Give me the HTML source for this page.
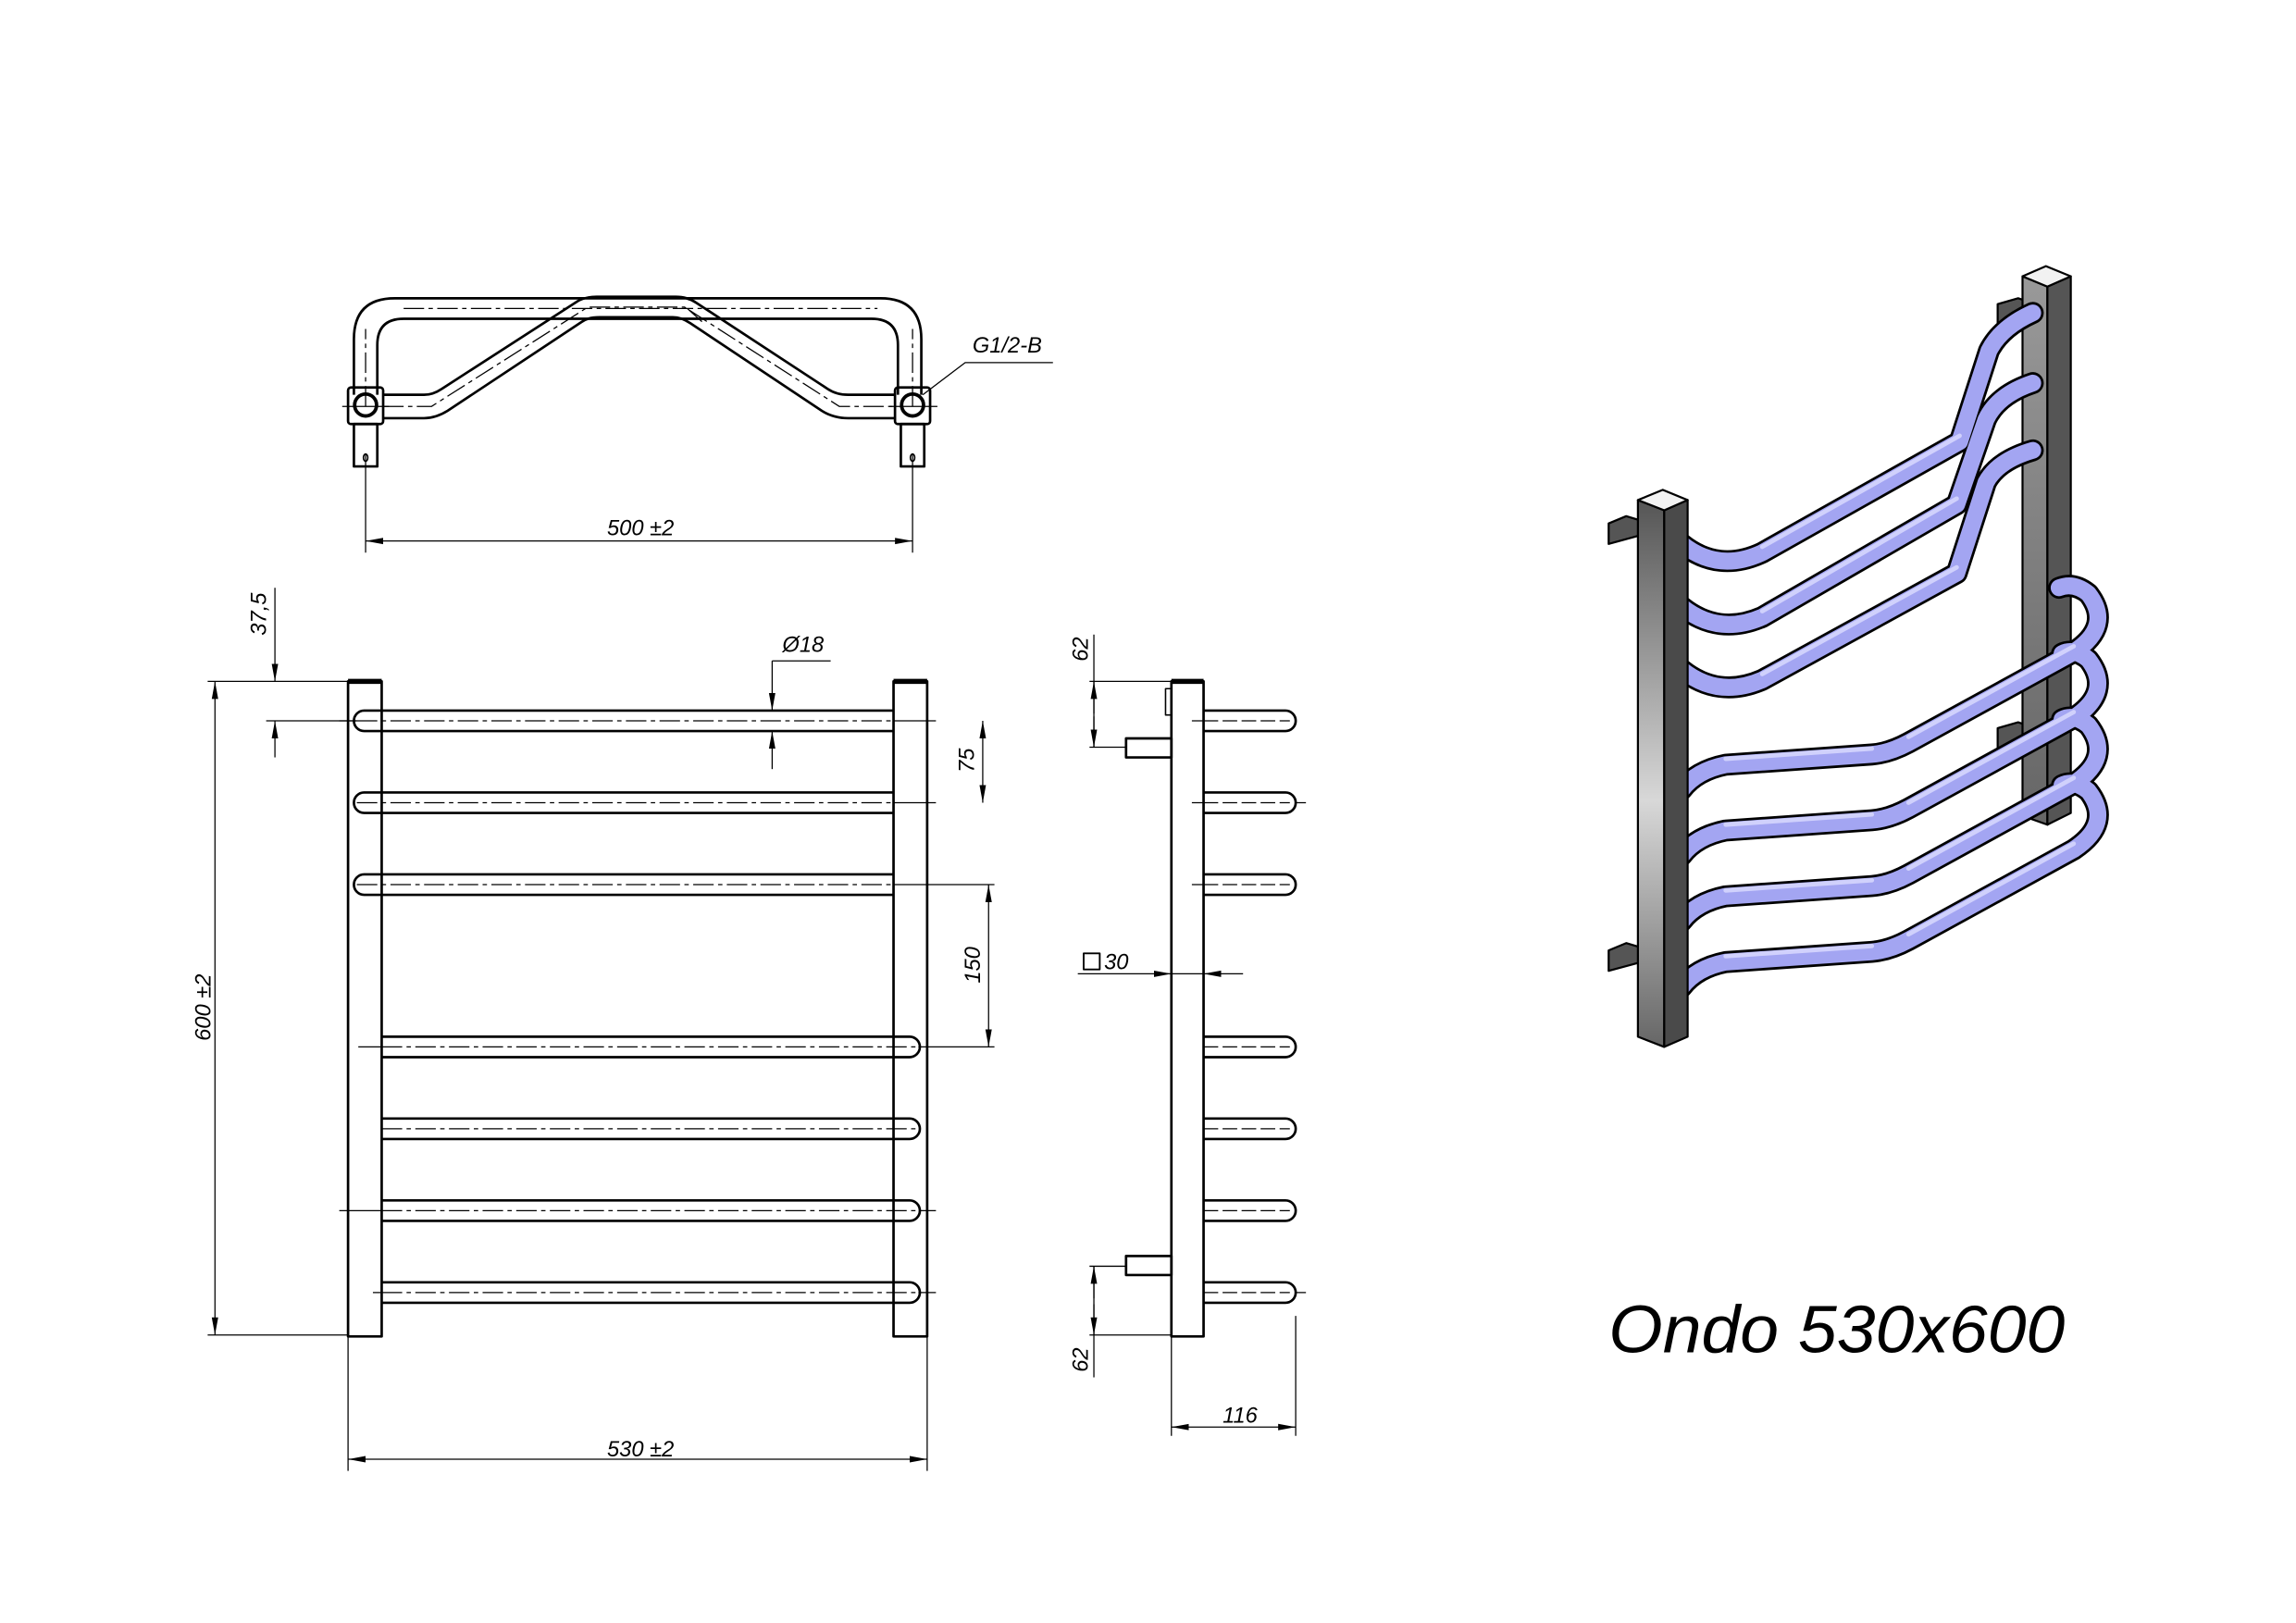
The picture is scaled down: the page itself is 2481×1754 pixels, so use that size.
<!DOCTYPE html>
<html><head><meta charset="utf-8"><style>
html,body{margin:0;padding:0;background:#fff;}
svg{display:block}
text{font-family:"Liberation Sans",sans-serif;font-style:italic;fill:#000}
</style></head><body>
<svg width="2481" height="1754" viewBox="0 0 1570 1110" preserveAspectRatio="none" xmlns="http://www.w3.org/2000/svg">
<defs>
<marker id="a" viewBox="0 0 12 6" refX="12" refY="3" markerWidth="12" markerHeight="6" markerUnits="userSpaceOnUse" orient="auto-start-reverse"><path d="M0,0.8 L12,3 L0,5.2 Z" fill="#000"/></marker>
<linearGradient id="pg" x1="0" x2="0" y1="0" y2="1"><stop offset="0" stop-color="#555"/><stop offset="0.55" stop-color="#d8d8d8"/><stop offset="1" stop-color="#666"/></linearGradient>
<linearGradient id="pg2" x1="0" x2="0" y1="0" y2="1"><stop offset="0" stop-color="#999"/><stop offset="1" stop-color="#666"/></linearGradient>
</defs>
<g fill="none" stroke="#000" stroke-width="1.7" stroke-linejoin="round">
<path d="M242,270 V232 Q242,204 270,204 H602 Q630,204 630,232 V270"/>
<path d="M258,270 V236 Q258,218 276,218 H596 Q614,218 614,236 V270"/>
<path d="M262,270 H290 Q296,270 302,266 L395,206 Q400,203 408,203 H462 Q470,203 476,207 L566,266 Q572,270 580,270 H612"/>
<path d="M262,286 H290 Q298,286 306,281 L398,220 Q402,217 410,217 H460 Q466,217 472,221 L562,281 Q570,286 580,286 H612"/>
<g stroke-width="0.8" stroke-dasharray="14,3,3,3"><path d="M250,278 V225 M624,278 V225 M276,211 H600 M262,278 H295 L402,210 H468 L574,278 H612 M470,211 L480,220"/></g>
<rect x="238" y="265" width="24" height="25" rx="2"/><rect x="612" y="265" width="24" height="25" rx="2"/>
<circle cx="250" cy="277" r="7.5" stroke-width="2.4"/><circle cx="624" cy="277" r="7.5" stroke-width="2.4"/>
<rect x="242" y="290" width="16" height="29"/><rect x="616" y="290" width="16" height="29"/>
<ellipse cx="250" cy="313" rx="1.5" ry="2.5" stroke-width="1"/><ellipse cx="624" cy="313" rx="1.5" ry="2.5" stroke-width="1"/>
<g stroke-width="0.8"><path d="M234,278 H266 M608,278 H641 M250,310 V378 M624,310 V378"/>
<path d="M250,370 H624" marker-start="url(#a)" marker-end="url(#a)"/>
<path d="M631,270 L660,248 H720"/></g>
<rect x="238" y="466" width="23" height="448"/><rect x="611" y="466" width="23" height="448"/>
<path d="M238,466 H261 M611,466 H634" stroke-width="3.5"/>
<g id="bt"><path d="M611,486 H249 A7,7 0 0 0 249,500 H611"/></g>
<use href="#bt" y="56"/><use href="#bt" y="112"/>
<g id="bb"><path d="M261,709 H622 A7,7 0 0 1 622,723 H261"/></g>
<use href="#bb" y="56"/><use href="#bb" y="112"/><use href="#bb" y="168"/>
<g stroke-width="0.8"><g stroke-dasharray="14,3,3,3"><path d="M244,493 H611 M244,549 H611 M244,605 H611 M261,716 H628 M261,772 H628 M261,828 H628 M261,884 H628"/></g>
<path d="M232,493 H244 M611,493 H640 M611,549 H640 M611,605 H680 M245,716 H261 M628,716 H680 M629,828 H640 M255,884 H261 M628,884 H640 M232,828 H261"/>
<path d="M142,466 H238 M142,913 H238 M182,466 H238 M182,493 H244 M238,914 V1006 M634,914 V1006"/>
<path d="M147,466 V913" marker-start="url(#a)" marker-end="url(#a)"/>
<path d="M188,402 V466" marker-end="url(#a)"/><path d="M188,518 V493" marker-end="url(#a)"/>
<path d="M672,493 V549" marker-start="url(#a)" marker-end="url(#a)"/>
<path d="M676,605 V716" marker-start="url(#a)" marker-end="url(#a)"/>
<path d="M528,452 V486" marker-end="url(#a)"/><path d="M528,526 V500" marker-end="url(#a)"/><path d="M528,452 H568"/>
<path d="M238,998 H634" marker-start="url(#a)" marker-end="url(#a)"/></g>
<rect x="801" y="466" width="22" height="448"/>
<path d="M801,466 H823" stroke-width="3.5"/>
<rect x="797" y="471" width="4" height="18" stroke-width="1"/>
<rect x="770" y="505" width="31" height="13"/><rect x="770" y="859" width="31" height="13"/>
<g id="st"><path d="M823,486 H879 A7,7 0 0 1 879,500 H823"/></g>
<use href="#st" y="56"/><use href="#st" y="112"/><use href="#st" y="223"/><use href="#st" y="279"/><use href="#st" y="335"/><use href="#st" y="391"/>
<g stroke-width="0.8"><g stroke-dasharray="10,3"><path d="M823,493 H882 M823,549 H882 M823,605 H882 M823,716 H882 M823,772 H882 M823,828 H882 M823,884 H882"/></g>
<path d="M815,493 H823 M815,549 H823 M815,605 H823 M886,549 H893 M886,884 H893"/>
<path d="M745,466 H801 M745,511 H770 M745,866 H770 M745,913 H801 M801,914 V982 M886,900 V982"/>
<path d="M748,434 V511" /><path d="M748,466 V488" marker-start="url(#a)"/><path d="M748,511 V490" marker-start="url(#a)"/>
<path d="M748,866 V942"/><path d="M748,866 V888" marker-start="url(#a)"/><path d="M748,913 V892" marker-start="url(#a)"/>
<path d="M801,976 H886" marker-start="url(#a)" marker-end="url(#a)"/>
<path d="M737,666 H801" marker-end="url(#a)"/><path d="M850,666 H823" marker-end="url(#a)"/><path d="M801,666 H823"/>
<rect x="741" y="652" width="11" height="11" stroke-width="1.2"/></g>
</g>
<g font-size="15">
<text x="438" y="366" text-anchor="middle">500 ±2</text>
<text x="665" y="241">G1/2-B</text>
<text x="438" y="996" text-anchor="middle">530 ±2</text>
<text x="535" y="446">Ø18</text>
<text x="836" y="973">116</text>
<text x="755" y="663">30</text>
<text transform="translate(144,689) rotate(-90)" text-anchor="middle">600 ±2</text>
<text transform="translate(182,420) rotate(-90)" text-anchor="middle">37,5</text>
<text transform="translate(666,520) rotate(-90)" text-anchor="middle">75</text>
<text transform="translate(670,660) rotate(-90)" text-anchor="middle">150</text>
<text transform="translate(744,444) rotate(-90)" text-anchor="middle">62</text>
<text transform="translate(744,930) rotate(-90)" text-anchor="middle">62</text>
</g>
<text x="1100" y="925" font-size="46" textLength="312" lengthAdjust="spacingAndGlyphs">Ondo 530x600</text>
<g stroke="#000" stroke-width="1.4" stroke-linejoin="round">
<polygon points="1366,208 1380,204 1392,208 1392,216 1366,222" fill="#555"/>
<polygon points="1366,498 1380,494 1392,498 1392,506 1366,512" fill="#555"/>
<polygon points="1383,189 1400,196 1400,564 1383,558" fill="url(#pg2)"/>
<polygon points="1400,196 1416,189 1416,556 1400,564" fill="#555"/>
<polygon points="1383,189 1399,182 1416,189 1400,196" fill="#f2f2f2"/>
</g>
<g fill="none" stroke-linecap="round" stroke-linejoin="round">
<g stroke="#000" stroke-width="15">
<path d="M1150,372 Q1175,392 1205,378 L1340,302 L1360,240 Q1368,224 1390,214"/>
<path d="M1150,415 Q1175,435 1205,422 L1338,345 L1358,287 Q1366,270 1390,262"/>
<path d="M1150,458 Q1175,478 1205,465 L1338,392 L1358,330 Q1366,315 1390,308"/>
<path d="M1150,540 Q1160,527 1180,523 L1280,516 Q1292,515 1305,508 L1418,446 Q1445,428 1428,406 Q1418,398 1408,402"/>
<path d="M1150,585 Q1160,572 1180,568 L1280,561 Q1292,560 1305,553 L1418,491 Q1445,473 1428,451 Q1418,443 1410,447"/>
<path d="M1150,630 Q1160,617 1180,613 L1280,606 Q1292,605 1305,598 L1418,536 Q1445,518 1428,496 Q1418,488 1410,492"/>
<path d="M1150,675 Q1160,662 1180,658 L1280,651 Q1292,650 1305,643 L1418,581 Q1445,563 1428,541 Q1418,533 1410,537"/>
</g>
<g stroke="#a3a5f2" stroke-width="11.5">
<path d="M1150,372 Q1175,392 1205,378 L1340,302 L1360,240 Q1368,224 1390,214"/>
<path d="M1150,415 Q1175,435 1205,422 L1338,345 L1358,287 Q1366,270 1390,262"/>
<path d="M1150,458 Q1175,478 1205,465 L1338,392 L1358,330 Q1366,315 1390,308"/>
<path d="M1150,540 Q1160,527 1180,523 L1280,516 Q1292,515 1305,508 L1418,446 Q1445,428 1428,406 Q1418,398 1408,402"/>
<path d="M1150,585 Q1160,572 1180,568 L1280,561 Q1292,560 1305,553 L1418,491 Q1445,473 1428,451 Q1418,443 1410,447"/>
<path d="M1150,630 Q1160,617 1180,613 L1280,606 Q1292,605 1305,598 L1418,536 Q1445,518 1428,496 Q1418,488 1410,492"/>
<path d="M1150,675 Q1160,662 1180,658 L1280,651 Q1292,650 1305,643 L1418,581 Q1445,563 1428,541 Q1418,533 1410,537"/>
</g>
<g stroke="#dcdcff" stroke-width="3" opacity="0.8">
<path d="M1205,374 L1340,298"/><path d="M1205,418 L1338,341"/><path d="M1205,461 L1338,388"/>
<path d="M1180,519 L1280,512 M1305,504 L1418,442"/><path d="M1180,564 L1280,557 M1305,549 L1418,487"/>
<path d="M1180,609 L1280,602 M1305,594 L1418,532"/><path d="M1180,654 L1280,647 M1305,639 L1418,577"/>
</g>
</g>
<g stroke="#000" stroke-width="1.4" stroke-linejoin="round">
<polygon points="1100,358 1112,353 1122,356 1122,366 1100,372" fill="#555"/>
<polygon points="1100,650 1112,645 1122,648 1122,658 1100,664" fill="#555"/>
<polygon points="1120,342 1138,349 1138,716 1120,709" fill="url(#pg)"/>
<polygon points="1138,349 1154,342 1154,709 1138,716" fill="#4a4a4a"/>
<polygon points="1120,342 1137,335 1154,342 1138,349" fill="#f2f2f2"/>
</g>
</svg>
</body></html>
